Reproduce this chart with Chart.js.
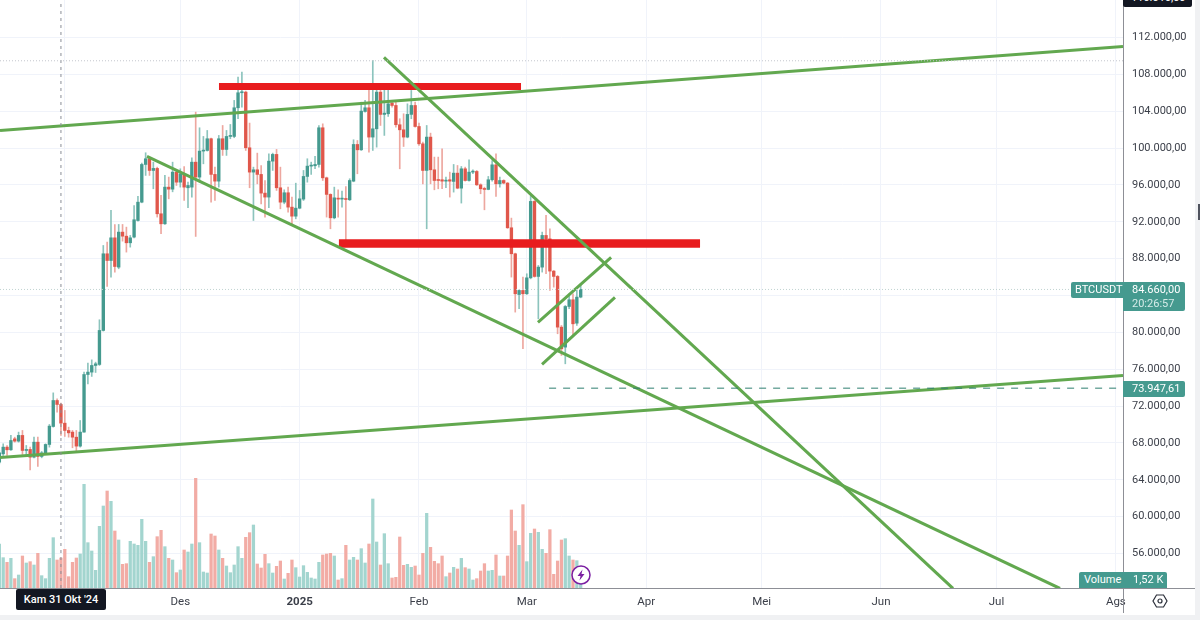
<!DOCTYPE html>
<html>
<head>
<meta charset="utf-8">
<title>BTCUSDT</title>
<script src="https://cdn.jsdelivr.net/npm/chart.js@4"></script>
<style>
  html, body { margin: 0; padding: 0; background: #fff; overflow: hidden; }
  #wrap { position: relative; width: 1200px; height: 620px; font-family: Roboto, sans-serif; font-size: 11px; }
  canvas { position: absolute; left: 0; top: 0; }
  .box { position: absolute; box-sizing: border-box; }
  .tag { position: absolute; background: #459a8f; color: #fff; line-height: 16px; white-space: nowrap; }
</style>
</head>
<body>
<div id="wrap">
  <canvas id="chart" width="1200" height="620"></canvas>

  <!-- pane frame -->
  <div class="box" style="left:0;top:588px;width:1195px;height:1px;background:#8d8f96"></div>
  <div class="box" style="left:1123px;top:0;width:1px;height:613px;background:#8d8f96"></div>
  <div class="box" style="left:1195px;top:0;width:5px;height:620px;background:#f0f1f3"></div>
  <div class="box" style="left:0;top:615px;width:1200px;height:5px;background:#f0f1f3"></div>
  <div class="box" style="left:1198px;top:204px;width:2px;height:16px;background:#50535e"></div>

  <!-- price tags -->
  <div class="box" style="left:1123px;top:0;width:69px;height:7px;background:#131722;color:#fff;overflow:hidden;border-radius:0 0 2px 2px">
    <div style="position:absolute;left:8px;top:-9px;line-height:14px">116.016,00</div>
  </div>
  <div class="tag" style="left:1071px;top:282px;width:52px;height:16px;padding-left:4px;box-sizing:border-box;border-radius:2px 0 0 2px">BTCUSDT</div>
  <div class="tag" style="left:1123px;top:282px;width:62px;height:29px;padding-left:9px;box-sizing:border-box;border-radius:0 2px 2px 0;line-height:14px;padding-top:1px">84.660,00<br><span style="color:#d5ebe8">20:26:57</span></div>
  <div class="tag" style="left:1123px;top:381px;width:62px;height:16px;padding-left:9px;box-sizing:border-box;border-radius:0 2px 2px 0">73.947,61</div>
  <div class="tag" style="left:1079px;top:572px;width:88px;height:16px;padding-left:5px;box-sizing:border-box;border-radius:2px 2px 0 0">Volume<span style="position:absolute;left:54px">1,52 K</span></div>

  <!-- crosshair date -->
  <div class="box" style="left:16px;top:589px;width:90px;height:21px;background:#131722;color:#fff;text-align:center;line-height:21px;font-weight:500;border-radius:2px">Kam 31 Okt '24</div>

  <!-- replay marker and settings icon -->
  <svg class="box" style="left:570px;top:564px" width="22" height="22" viewBox="0 0 22 22">
    <circle cx="11" cy="11" r="9" fill="#fff" stroke="#7b1fa2" stroke-width="1.5"/>
    <path d="M12.5 5.5 L7.5 12 H10.5 L9.5 16.5 L14.5 10 H11.5 Z" fill="#7b1fa2"/>
  </svg>
  <svg class="box" style="left:1152px;top:593px" width="16" height="16" viewBox="0 0 16 16">
    <path d="M4.5 2 H11.5 L15 8 L11.5 14 H4.5 L1 8 Z" fill="none" stroke="#2a2e39" stroke-width="1.2"/>
    <circle cx="8" cy="8" r="2" fill="none" stroke="#2a2e39" stroke-width="1.2"/>
  </svg>
</div>

<script>
'use strict';

// Daily candles, first one is 15 Oct 2024. Days are counted from 1 Dec 2024.
const firstDay = -47;

const opens = [
  65920, 66820, 67550, 67260, 68450, 68200, 68820, 67190, 67300, 66460, 68090, 66540, 66900, 67840, 69790, 72610,
  72180, 70150, 69360, 69180, 68630, 67660, 69180, 75430, 75690, 76410, 76520, 80210, 88530, 87800, 90260, 87080,
  90880, 90440, 89720, 90340, 92140, 94130, 98220, 98840, 97570, 97790, 92870, 91780, 95760, 95540, 97390,
  96300, 97140, 95690, 95760, 98470, 96850, 99670, 99740, 101010, 97140, 96410, 101010, 99850, 101260, 101260,
  104370, 106000, 106070, 100030, 97390, 97640, 97140, 95110, 94680, 98580, 99310, 95690, 94130, 95150, 93590,
  92610, 93480, 94460, 96920, 98040, 98080, 98220, 102200, 96770, 94970, 92430, 94530, 94460, 94490, 94390, 96410,
  100390, 99810, 103970, 104370, 101190, 102090, 106070, 103650, 103720, 104880, 104620, 102530, 101980, 101190,
  103650, 104620, 102340, 100460, 97570, 101190, 97640, 96560, 96560, 96410, 96560, 96380, 97280, 95650, 97750,
  96480, 97390, 97460, 96010, 95580, 95510, 96560, 98180, 96120, 96480, 96200, 91350, 88530, 84110, 84550, 84190,
  85920, 94210, 86070, 87080, 90520, 90150, 86650, 86070, 80570, 78400, 82810, 83540, 81000, 83830
];
const highs = [
  67190, 67910, 67730, 68820, 68630, 69180, 69360, 67730, 67550, 68630, 68630, 67080, 67910, 70010, 73440, 72790,
  72320, 71530, 69720, 69360, 69360, 70440, 75690, 76660, 77020, 76770, 81370, 89430, 89790, 93230, 91710, 91710,
  91710, 91420, 90520, 93770, 94750, 98370, 99490, 98950, 98470, 97930, 94860, 97030, 96850, 98470, 97570,
  97750, 98000, 96300, 98940, 103900, 102200, 101260, 101910, 101080, 97930, 101370, 102450, 101910, 102560, 105170,
  107700, 108240, 106180, 102710, 97930, 99450, 98110, 96480, 99380, 99450, 99850, 97930, 95470, 95760, 94680,
  96190, 95400, 97570, 98840, 98470, 99090, 102450, 102630, 96850, 95040, 95760, 95470, 95330, 95830, 96670, 100900,
  100820, 104980, 105170, 106610, 109510, 106430, 106430, 106320, 106320, 105170, 105170, 103180, 103720, 104800,
  106250, 104980, 102710, 100640, 102450, 101620, 99020, 99020, 99920, 96850, 97390, 98220, 98110, 98000, 97930,
  98730, 97640, 97570, 96120, 95760, 96920, 98650, 99380, 96850, 96560, 96270, 92400, 88600, 84620, 86000, 86360,
  94750, 94310, 87260, 90880, 92690, 91240, 86720, 86180, 80750, 82920, 84190, 84190, 84550, 85270
];
const lows = [
  65740, 66640, 66640, 67190, 68090, 68090, 66750, 66640, 65090, 66390, 65450, 66390, 66750, 67550, 69720, 71350,
  68820, 68710, 68630, 67480, 67010, 67550, 69180, 74420, 75220, 75650, 76410, 80140, 84980, 85990, 86540, 86900,
  89900, 88710, 89250, 90260, 92070, 94060, 97030, 97030, 95580, 92510, 90700, 91710, 94490, 95250, 95940,
  95760, 94310, 93520, 94680, 90410, 96300, 98290, 99670, 94130, 94310, 95760, 99200, 99200, 101010, 101120,
  103180, 104440, 99740, 95690, 92140, 96120, 93950, 92510, 93520, 97570, 95400, 93410, 93950, 93050, 91780,
  92320, 93410, 94310, 96300, 97140, 97750, 97930, 96480, 92510, 91240, 92320, 92510, 93590, 89610, 94310, 96340,
  97210, 99740, 103900, 99560, 99740, 100100, 102450, 101370, 103430, 104440, 102270, 97750, 100170, 101110,
  103180, 102270, 100280, 96120, 91240, 96120, 95470, 95580, 95580, 95690, 94680, 95220, 95580, 94030, 96410,
  96410, 97210, 95940, 95040, 93300, 95470, 96410, 94750, 95760, 96120, 91280, 86000, 82200, 82560, 78220, 84110,
  85810, 85990, 81470, 86540, 86360, 84550, 84910, 79850, 77500, 76590, 82560, 79670, 80750, 83750
];
const closes = [
  66930, 67550, 67260, 68270, 68200, 68820, 67190, 67300, 66460, 68090, 66540, 66930, 67840, 69830, 72610, 72180,
  70150, 69360, 69100, 68630, 67660, 69180, 75430, 75690, 76410, 76590, 80210, 88530, 87800, 90260, 87150, 90880,
  90440, 89720, 90260, 92220, 94130, 98220, 98840, 97570, 97790, 92870, 91780, 95760, 95540, 97390, 96300,
  97210, 95760, 95940, 98470, 96850, 99670, 99740, 101010, 97140, 96410, 101010, 99850, 101260, 101370, 104370,
  106000, 106070, 100030, 97390, 97640, 97140, 95110, 94680, 98580, 99310, 95690, 94130, 95150, 93590, 92610,
  93480, 94490, 96920, 98040, 98110, 98220, 102200, 96770, 94970, 92430, 94600, 94460, 94530, 94420, 96480, 100390,
  99810, 104010, 104370, 101190, 102090, 106070, 103650, 103790, 104800, 104620, 102530, 101980, 101190, 103650,
  104620, 102340, 100460, 97570, 101190, 97640, 96480, 96480, 96410, 96480, 96410, 97280, 95650, 97750, 96480,
  97390, 97460, 96010, 95580, 95510, 96560, 98180, 96120, 96480, 96200, 91350, 88530, 84190, 84550, 84190, 85920,
  94210, 86070, 87080, 90520, 90150, 86650, 86070, 80570, 78220, 82810, 83540, 80930, 83830, 84660
];
// Volume in thousands of BTC
const volumes = [
  13.2, 9.1, 7.7, 8.9, 2.8, 3.9, 9.6, 7.5, 7.9, 6.9, 10.4, 3.7, 2.8, 8.9, 15.1, 8.4, 9.0, 11.6, 3.4, 7.7, 9.0, 10.2,
  31.1, 13.6, 11.1, 5.3, 18.5, 24.6, 29.1, 26.0, 17.1, 14.4, 7.1, 7.3, 14.0, 13.2, 12.8, 20.6, 14.0, 7.7, 9.4, 15.4,
  17.3, 12.4, 8.9, 8.4, 4.6,
  5.4, 11.4, 10.8, 13.2, 32.9, 13.6, 4.8, 4.5, 16.2, 15.6, 11.4, 8.9, 6.6, 4.6, 6.9, 12.4, 8.9, 15.2, 16.6, 18.9, 7.2,
  6.0, 10.1, 7.3, 4.5, 6.5, 8.1, 2.7, 4.4, 8.4, 6.1, 3.3, 6.7, 4.7, 3.0, 2.7, 7.7, 9.9, 10.2, 10.4, 9.6, 2.4, 2.8,
  12.8, 8.4, 9.2, 8.4, 11.8, 7.5, 13.2, 26.7, 13.8, 6.9, 16.3, 7.3, 3.0, 3.2, 15.3, 6.8, 7.1, 6.2, 6.6, 3.9, 10.4,
  22.4, 12.2, 8.0, 7.3, 9.6, 3.4, 4.5, 6.2, 5.7, 8.9, 6.1, 5.7, 2.4, 2.8, 5.1, 7.3, 5.1, 5.3, 9.9, 3.6, 3.6, 9.6,
  23.4, 17.1, 12.8, 25.0, 7.9, 16.4, 17.7, 16.7, 11.6, 10.4, 17.5, 4.1, 8.1, 14.4, 14.8, 9.6, 8.4, 8.2, 1.52
];

const priceTicks = [112000, 108000, 104000, 100000, 96000, 92000, 88000, 84000, 80000, 76000, 72000, 68000, 64000, 60000, 56000];
const monthDays = [-30, 0, 31, 62, 90, 121, 151, 182, 212, 243];
const monthLabels = ['', 'Des', '2025', 'Feb', 'Mar', 'Apr', 'Mei', 'Jun', 'Jul', 'Ags'];

// Drawn lines as [day, price] ends
const upperRise = [[-46.83, 101910], [244.86, 111020]];
const lowerRise = [[-46.83, 66430], [244.86, 75330]];
const wedgeLine = [[-8.65, 99090], [228.5, 52216]];
const steepLine = [[52.9, 109830], [200.7, 52216]];
const channelTop = [[92.9, 81080], [111.9, 88130]];
const channelBottom = [[93.96, 76520], [112.9, 83790]];
const topBar = [[10.05, 106680], [88.5, 106680]];
const midBar = [[41.2, 89650], [135, 89650]];
const dashedLevel = [[95.8, 73947.61], [244.86, 73947.61]];

const lastPrice = 84660;
const highLevel = 109470;
const crossDay = -31;
const dayMin = -46.83, dayMax = 244.86;
const priceMin = 52266, priceMax = 116064;

const UP = '#459a8f', DOWN = '#e0574b';
const UP_WICK = '#8cc4bd', DOWN_WICK = '#eda79f';
const UP_VOL = '#a3d5cf', DOWN_VOL = '#f2aca5';
const LINE_GREEN = '#62a84f', BAR_RED = '#e81c1e';
const GRID = '#f0f3fa';

const days = opens.map((_, i) => firstDay + i);
const isUp = i => closes[i] >= opens[i];
const toPoints = line => line.map(p => ({ x: p[0], y: p[1] }));

function lineSet(points, color, width, dash) {
  return {
    type: 'line',
    data: toPoints(points),
    borderColor: color,
    borderWidth: width,
    borderDash: dash || [],
    borderCapStyle: 'butt',
    pointRadius: 0,
    tension: 0,
    order: 1,
    yAxisID: 'y'
  };
}

function priceLabel(v) {
  return v.toLocaleString('de-DE', { minimumFractionDigits: 2, maximumFractionDigits: 2 });
}

new Chart(document.getElementById('chart'), {
  type: 'bar',
  data: {
    datasets: [
      {
        data: days.map((d, i) => ({ x: d, y: volumes[i] })),
        backgroundColor: days.map((d, i) => isUp(i) ? UP_VOL : DOWN_VOL),
        barThickness: 2.6,
        grouped: false,
        yAxisID: 'vol',
        order: 5
      },
      {
        data: days.map((d, i) => ({ x: d, y: [lows[i], highs[i]] })),
        backgroundColor: days.map((d, i) => isUp(i) ? UP_WICK : DOWN_WICK),
        barThickness: 1,
        grouped: false,
        yAxisID: 'y',
        order: 4
      },
      {
        data: days.map((d, i) => ({ x: d, y: [opens[i], closes[i]] })),
        backgroundColor: days.map((d, i) => isUp(i) ? UP : DOWN),
        barThickness: 2.7,
        minBarLength: 1,
        grouped: false,
        yAxisID: 'y',
        order: 3
      },
      lineSet([[dayMin, highLevel], [dayMax, highLevel]], '#c4c6cd', 1, [1, 2]),
      lineSet([[dayMin, lastPrice], [dayMax, lastPrice]], '#c0d3d1', 1, [1, 2]),
      lineSet([[crossDay, priceMin], [crossDay, priceMax]], '#8a8d96', 1, [3, 4]),
      lineSet(dashedLevel, '#2e7f70', 1, [7, 7]),
      lineSet(upperRise, LINE_GREEN, 3),
      lineSet(lowerRise, LINE_GREEN, 3),
      lineSet(wedgeLine, LINE_GREEN, 3),
      lineSet(steepLine, LINE_GREEN, 3),
      lineSet(channelTop, LINE_GREEN, 3),
      lineSet(channelBottom, LINE_GREEN, 3),
      lineSet(topBar, BAR_RED, 7),
      lineSet(midBar, BAR_RED, 8.5)
    ]
  },
  options: {
    responsive: false,
    animation: false,
    events: [],
    layout: { padding: 0 },
    plugins: { legend: { display: false }, tooltip: { enabled: false } },
    scales: {
      x: {
        type: 'linear',
        min: dayMin,
        max: dayMax,
        offset: false,
        afterBuildTicks: scale => { scale.ticks = monthDays.map(v => ({ value: v })); },
        afterFit: scale => { scale.height = 32; scale.paddingLeft = 0; scale.paddingRight = 0; },
        border: { display: false },
        grid: { color: GRID, offset: false, drawTicks: false },
        ticks: {
          autoSkip: false,
          maxRotation: 0,
          padding: 7,
          color: '#3b3f49',
          font: ctx => ({ family: 'Roboto', size: 11.5, weight: monthLabels[ctx.index] === '2025' ? 'bold' : 'normal' }),
          callback: (v, i) => monthLabels[i]
        }
      },
      y: {
        position: 'right',
        min: priceMin,
        max: priceMax,
        afterBuildTicks: scale => { scale.ticks = priceTicks.map(v => ({ value: v })); },
        afterFit: scale => { scale.width = 77; scale.paddingTop = 0; scale.paddingBottom = 0; },
        border: { display: false },
        grid: { color: GRID, drawTicks: false },
        ticks: {
          padding: 9,
          color: '#3b3f49',
          font: { family: 'Roboto', size: 11 },
          callback: v => priceLabel(v)
        }
      },
      vol: {
        display: false,
        min: 0,
        max: 176.4
      }
    }
  }
});
</script>
</body>
</html>
